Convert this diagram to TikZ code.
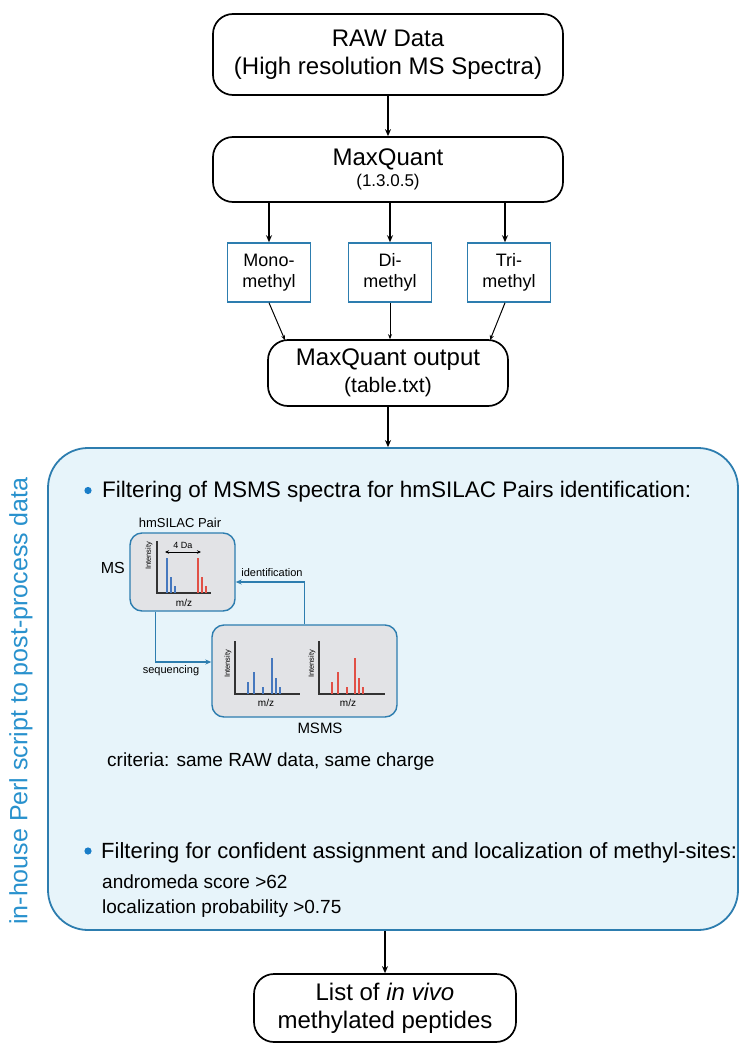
\documentclass[tikz,border=0pt]{standalone}
\usepackage{fontspec}
\setmainfont{Liberation Sans}
\usetikzlibrary{arrows.meta,calc}
\definecolor{bord}{RGB}{45,125,175}
\definecolor{lbl}{RGB}{40,145,205}
\definecolor{lfill}{RGB}{231,244,250}
\definecolor{gfill}{RGB}{226,227,230}
\definecolor{pblue}{RGB}{70,120,190}
\definecolor{pred}{RGB}{225,80,70}
\definecolor{bul}{RGB}{25,125,200}
\newcommand\fs[2]{\fontsize{#1}{#2}\selectfont}
\tikzset{
  blackbox/.style={draw=black, line width=1.7pt, rounded corners=20pt, align=center, inner sep=0pt},
  methbox/.style={draw=bord, line width=1.6pt, fill=white, minimum width=83pt, minimum height=59pt, align=center, inner sep=0pt, font=\fs{18}{21}},
  specbox/.style={draw=bord, fill=gfill, line width=1.4pt, rounded corners=12pt, inner sep=0pt},
  arr/.style={line width=1.2pt, -{Stealth[length=7pt,width=6pt]}},
  sarr/.style={line width=1pt, -{Stealth[length=5pt,width=4pt]}},
  barr/.style={draw=bord, line width=1.6pt, -{Stealth[length=6pt,width=5pt]}},
  axis/.style={line width=1.3pt, black!80},
  bpk/.style={line width=1.8pt, pblue},
  rpk/.style={line width=1.8pt, pred},
  txt/.style={inner sep=0pt},
}
\begin{document}
\begin{tikzpicture}[x=1pt,y=-1pt]
\useasboundingbox (0,0) rectangle (740,1044);
% top chain
\node[blackbox, minimum width=350pt, minimum height=81pt, font=\fs{24}{28}] (raw) at (388,54.5)
  {RAW Data\\(High resolution MS Spectra)};
\node[blackbox, minimum width=350pt, minimum height=65pt, font=\fs{24}{24}] (mq) at (388,169.5)
  {MaxQuant\\[-3pt]\fs{17}{19}(1.3.0.5)};
\draw[arr] (raw.south) -- (mq.north);
\node[methbox] (mono) at (269,272.5) {Mono-\\methyl};
\node[methbox] (di) at (390,272.5) {Di-\\methyl};
\node[methbox] (tri) at (509,272.5) {Tri-\\methyl};
\draw[arr] (mono.north |- mq.south) -- (mono.north);
\draw[arr] (di.north |- mq.south) -- (di.north);
\draw[arr] ($(tri.north |- mq.south)+(-4,0)$) -- ($(tri.north)+(-4,0)$);
\node[blackbox, minimum width=240pt, minimum height=66pt, font=\fs{24}{26}] (out) at (388,373)
  {MaxQuant output\\[1pt]\fs{21}{24}(table.txt)};
\coordinate (inL) at ($(out.north)+(-103,1)$);
\coordinate (inR) at ($(out.north)+(102,1)$);
\draw[sarr] (mono.south) -- (inL);
\draw[sarr] (di.south) -- (di.south |- out.north);
\draw[sarr] ($(tri.south)+(-4,0)$) -- (inR);
% big box
\node[draw=bord, fill=lfill, line width=1.8pt, rounded corners=40pt, minimum width=690pt, minimum height=482pt, inner sep=0pt] (big) at (393,689) {};
\draw[arr] (out.south) -- (out.south |- big.north);
\node[rotate=90, text=lbl, txt] (side) at (21,701) {\fs{25}{30}in-house Perl script to post-process data};
% bullet 1
\fill[bul] (88,490.5) circle (3.6pt);
\node[txt, anchor=base west] (b1) at (102,497) {\fs{22.5}{26}Filtering of MSMS spectra for hmSILAC Pairs identification:};
% MS box
\node[specbox, minimum width=105pt, minimum height=78pt] (ms) at (182.5,572) {};
\node[txt] (hms) at (180,523) {\fs{13}{15}hmSILAC Pair};
\node[txt, anchor=east] (mslab) at (125,568) {\fs{16}{18}MS};
\draw[axis] (157,541) -- (157,593) -- (211,593);
\node[txt, rotate=90] (int0) at (149,556) {\fs{7.5}{8}Intensity};
\node[txt] (mz0) at (184,603) {\fs{10}{11}m/z};
\draw[line width=1pt, {Stealth[length=4pt,width=3.5pt]}-{Stealth[length=4pt,width=3.5pt]}] (165,552) -- (201,552);
\node[txt] (da) at (183,545) {\fs{9}{10}4 Da};
\draw[bpk] (167,593) -- (167,558);
\draw[bpk] (171,593) -- (171,577);
\draw[bpk] (175,593) -- (175,586);
\draw[rpk] (198,593) -- (198,558);
\draw[rpk] (202,593) -- (202,577);
\draw[rpk] (206,593) -- (206,586);
% MSMS box
\node[specbox, minimum width=185pt, minimum height=92pt] (msms) at (304.5,671) {};
\node[txt] (msmslab) at (320,728) {\fs{15}{17}MSMS};
\draw[axis] (235,641) -- (235,694) -- (300,694);
\node[txt, rotate=90] (int1) at (228,664) {\fs{7.5}{8}Intensity};
\node[txt] (mz1) at (266,703) {\fs{10}{11}m/z};
\foreach \x/\t in {248/682, 254/672, 263/687, 272/658, 276/678, 280/687}
  \draw[bpk] (\x,694) -- (\x,\t);
\draw[axis] (319,641) -- (319,694) -- (385,694);
\node[txt, rotate=90] (int2) at (312,664) {\fs{7.5}{8}Intensity};
\node[txt] (mz2) at (348,703) {\fs{10}{11}m/z};
\foreach \x/\t in {332/682, 338/672, 347/687, 355/658, 359/678, 363/687}
  \draw[rpk] (\x,694) -- (\x,\t);
% connectors between spectra boxes
\draw[barr] (msms.north) |- ($(ms.east)+(0,10)$);
\node[txt] (idlab) at (272,573) {\fs{11}{12}identification};
\draw[barr] ($(ms.south)+(-27,0)$) |- ($(msms.west)+(0,-9)$);
\node[txt] (seqlab) at (171,671) {\fs{11}{12}sequencing};
\node[txt, anchor=base west] (crit) at (107,766) {\fs{19}{22}criteria: same RAW data, same charge};
% bullet 2
\fill[bul] (88,851) circle (3.6pt);
\node[txt, anchor=base west] (b2) at (101,858) {\fs{22}{26}Filtering for confident assignment and localization of methyl-sites:};
\node[txt, anchor=north west, align=left, font=\fs{19}{25}] (crit2) at (102,875) {andromeda score >62\\localization probability >0.75};
% final
\node[blackbox, minimum width=262pt, minimum height=68pt, font=\fs{24}{28}] (fin) at (385,1008)
  {List of \textit{in vivo}\\methylated peptides};
\draw[arr] (fin.north |- big.south) -- (fin.north);
\end{tikzpicture}
\end{document}
